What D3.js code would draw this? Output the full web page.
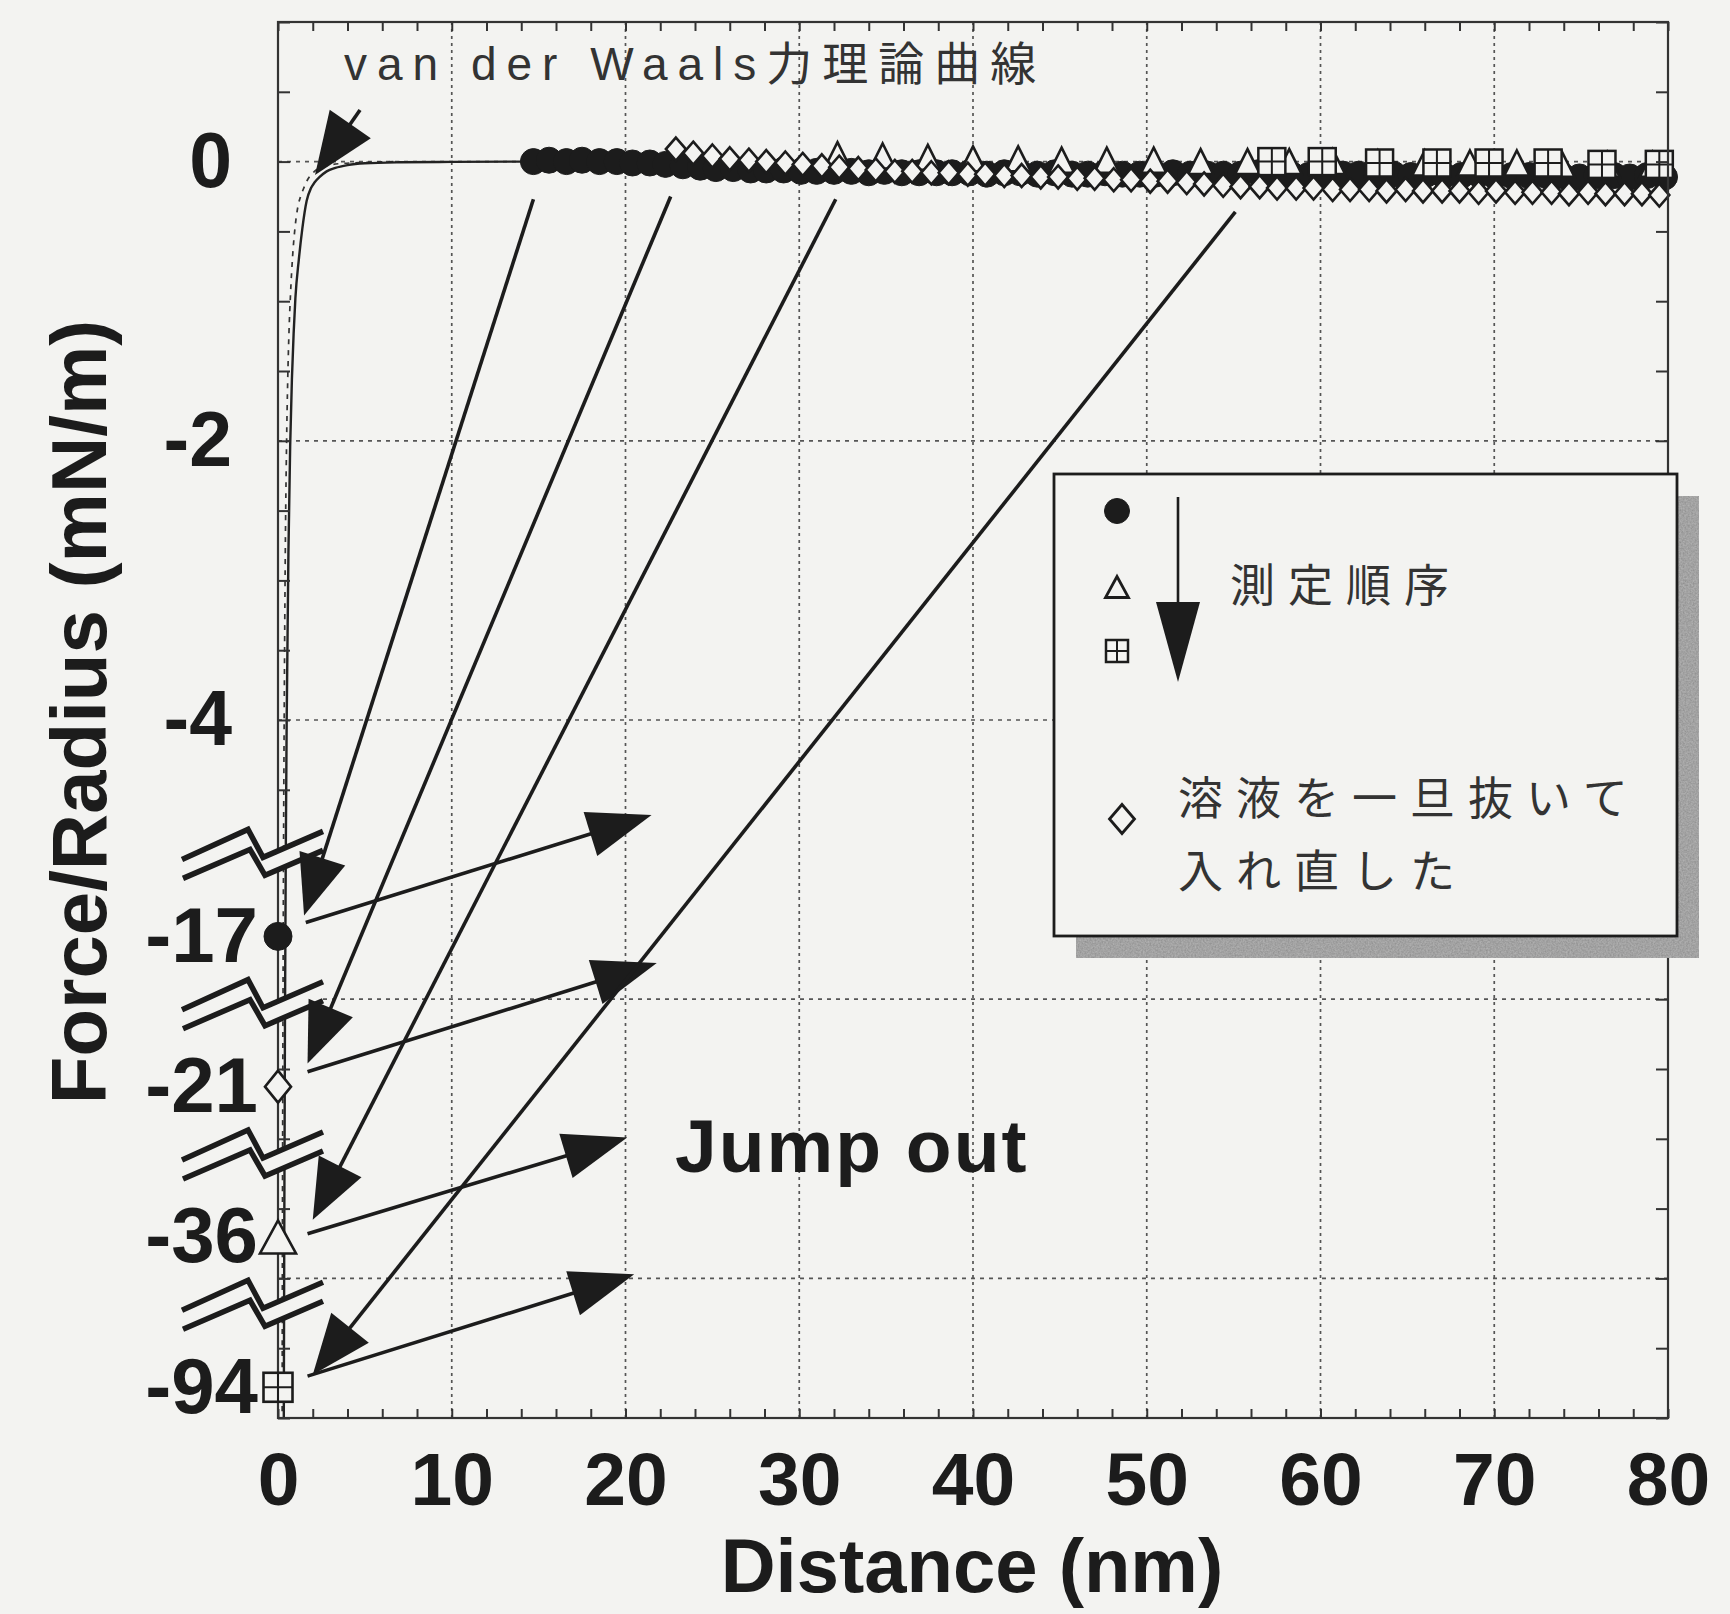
<!DOCTYPE html>
<html>
<head>
<meta charset="utf-8">
<script src="https://cdn.jsdelivr.net/npm/d3@7"></script>
<style>
  html, body { margin: 0; padding: 0; background: #f3f3f1; }
  svg { display: block; }
</style>
</head>
<body>
<svg id="chart" width="1730" height="1614"></svg>
<script>
// ---------- axis ticks ----------
const xTickValues = [0, 10, 20, 30, 40, 50, 60, 70, 80];
const xTickLabels = ["0", "10", "20", "30", "40", "50", "60", "70", "80"];
const yTickValues = [0, -2, -4];
const yTickLabels = ["0", "-2", "-4"];
const xGridValues = [10, 20, 30, 40, 50, 60, 70];
const yGridValues = [0, -2, -4, -6, -8];

// ---------- van der Waals theoretical curves (Distance nm, Force/Radius mN/m) ----------
const vdwSolidD = [0.30, 0.33, 0.36, 0.40, 0.45, 0.50, 0.60, 0.70, 0.80, 0.90, 1.00, 1.20, 1.40, 1.65, 1.90, 2.10, 2.40, 2.80, 3.30, 4.00, 5.00, 7.00, 10.0, 14.7];
const vdwSolidF = [-11.0, -9.2, -7.7, -6.2, -4.9, -4.0, -2.8, -2.04, -1.56, -1.23, -0.98, -0.70, -0.48, -0.28, -0.19, -0.15, -0.11, -0.07, -0.045, -0.025, -0.012, -0.005, -0.002, 0];
const vdwDashD = [0.22, 0.25, 0.28, 0.32, 0.36, 0.42, 0.49, 0.56, 0.63, 0.72, 0.84, 1.00, 1.15, 1.30, 1.45, 1.70, 2.10, 2.80, 3.50, 5.00, 7.00];
const vdwDashF = [-11.0, -8.0, -6.4, -4.9, -3.9, -2.8, -2.04, -1.56, -1.23, -0.95, -0.68, -0.45, -0.32, -0.25, -0.20, -0.13, -0.07, -0.03, -0.015, -0.006, 0];

// ---------- measured force curves ----------
// 1st run (filled circles)
const circleD = [14.7, 15.6, 16.6, 17.5, 18.5, 19.5, 20.4, 21.4, 22.3, 23.3, 24.3, 25.2, 26.2, 27.2, 28.1, 29.1, 30.1, 31.0, 32.0, 33.0, 34.0, 34.9, 35.9, 36.9, 37.9, 38.8, 39.8, 40.8, 41.8, 42.7, 43.7, 44.7, 45.7, 46.6, 47.6, 48.6, 49.6, 50.5, 51.5, 52.5, 53.5, 54.4, 55.4, 56.4, 57.4, 58.3, 59.3, 60.3, 61.3, 62.2, 63.2, 64.2, 65.2, 66.1, 67.1, 68.1, 69.1, 70.0, 71.0, 72.0, 73.0, 73.9, 74.9, 75.9, 76.9, 77.8, 78.8, 79.8];
const circleF = [0.00, 0.01, 0.00, 0.01, 0.00, 0.00, -0.01, -0.01, -0.02, -0.03, -0.04, -0.05, -0.05, -0.06, -0.06, -0.06, -0.07, -0.07, -0.07, -0.07, -0.08, -0.07, -0.08, -0.08, -0.08, -0.08, -0.08, -0.09, -0.08, -0.08, -0.09, -0.08, -0.09, -0.09, -0.08, -0.09, -0.09, -0.09, -0.08, -0.09, -0.09, -0.09, -0.09, -0.08, -0.09, -0.09, -0.10, -0.09, -0.09, -0.09, -0.10, -0.09, -0.10, -0.09, -0.10, -0.10, -0.09, -0.10, -0.10, -0.10, -0.10, -0.10, -0.11, -0.10, -0.10, -0.11, -0.10, -0.11];
// 2nd run (open triangles)
const triangleD = [32.2, 34.8, 37.4, 40.0, 42.6, 45.1, 47.7, 50.4, 53.1, 55.8, 58.2, 60.7, 63.3, 66.0, 68.6, 71.3, 73.9, 76.5, 79.1];
const triangleF = [0.05, 0.04, 0.03, 0.02, 0.02, 0.01, 0.01, 0.01, 0.00, 0.00, 0.00, 0.00, -0.01, -0.01, -0.01, -0.01, -0.02, -0.02, -0.02];
// 3rd run (crossed squares)
const squareD = [57.2, 60.1, 63.4, 66.7, 69.7, 73.1, 76.2, 79.5];
const squareF = [0.00, 0.00, -0.01, -0.01, -0.01, -0.01, -0.02, -0.02];
// after draining and refilling the solution (open diamonds)
const diamondD = [22.9, 23.9, 25.0, 26.0, 27.1, 28.1, 29.2, 30.2, 31.3, 32.3, 33.4, 34.4, 35.5, 36.5, 37.6, 38.6, 39.7, 40.7, 41.8, 42.8, 43.9, 44.9, 46.0, 47.0, 48.1, 49.1, 50.2, 51.2, 52.3, 53.3, 54.4, 55.4, 56.5, 57.5, 58.6, 59.6, 60.7, 61.7, 62.8, 63.8, 64.9, 65.9, 67.0, 68.0, 69.1, 70.1, 71.2, 72.2, 73.3, 74.3, 75.4, 76.4, 77.5, 78.5, 79.5];
const diamondF = [0.09, 0.06, 0.04, 0.02, 0.01, 0.00, -0.01, -0.02, -0.03, -0.04, -0.05, -0.06, -0.07, -0.07, -0.08, -0.08, -0.09, -0.09, -0.10, -0.10, -0.11, -0.11, -0.12, -0.12, -0.13, -0.13, -0.14, -0.14, -0.15, -0.16, -0.17, -0.18, -0.18, -0.19, -0.19, -0.19, -0.20, -0.20, -0.20, -0.21, -0.20, -0.21, -0.21, -0.21, -0.22, -0.21, -0.22, -0.22, -0.22, -0.23, -0.22, -0.23, -0.23, -0.23, -0.24];

// ---------- adhesion (pull-off) values on the broken axis ----------
const adhesionLabels = ["-17", "-21", "-36", "-94"];
const adhesionSymbols = ["circle", "diamond", "triangle", "square"];
// jump-in arrows: start just below the curve at the jump distance, end beside the adhesion point
const jumpInStartD = [14.7, 22.6, 32.1, 55.1];
const jumpInStartF = [-0.27, -0.25, -0.27, -0.36];
const jumpInEndD = [1.5, 1.7, 2.0, 2.0];
const jumpInEndF = [-5.40, -6.46, -7.58, -8.69];
// jump-out arrows
const jumpOutStartD = [1.6, 1.7, 1.7, 1.7];
const jumpOutStartF = [-5.45, -6.52, -7.68, -8.70];
const jumpOutEndD = [21.5, 21.8, 20.1, 20.5];
const jumpOutEndF = [-4.68, -5.74, -6.99, -7.97];
// pointer to the theoretical curve
const vdwPointerD = [4.72, 2.13];
const vdwPointerF = [0.37, -0.096];

// ---------- layout ----------
const W = 1730, H = 1614;
const M = { left: 278, right: 1668, top: 22, bottom: 1418 };
const paper = "#f3f3f1";
const ink = "#1c1c1c";
const boldFont = "'Liberation Sans', Arial, Helvetica, sans-serif";
const jpFont = "'Liberation Sans', 'Noto Sans CJK JP', sans-serif";

const svg = d3.select("#chart");
svg.append("rect").attr("width", W).attr("height", H).attr("fill", paper);

// grainy fill for the legend shadow
const defs = svg.append("defs");
const grain = defs.append("filter").attr("id", "grain").attr("x", 0).attr("y", 0).attr("width", 1).attr("height", 1);
grain.append("feTurbulence").attr("type", "fractalNoise").attr("baseFrequency", 0.6).attr("numOctaves", 2).attr("seed", 3).attr("result", "noise");
grain.append("feColorMatrix").attr("in", "noise").attr("type", "matrix")
  .attr("values", "0 0 0 0 0.5  0 0 0 0 0.5  0 0 0 0 0.5  0 0 0 0.9 0").attr("result", "tone");
grain.append("feComposite").attr("in", "tone").attr("in2", "SourceGraphic").attr("operator", "in").attr("result", "tex");
grain.append("feMerge").selectAll("feMergeNode").data(["SourceGraphic", "tex"]).join("feMergeNode").attr("in", d => d);

const x = d3.scaleLinear().domain([0, 80]).range([M.left, M.right]);
const y = d3.scaleLinear().domain([1, -9]).range([M.top, M.bottom]);
const yBreak = d3.scalePoint().domain(adhesionLabels).range([y(-5.55), y(-8.78)]);

// ---------- grid ----------
const grid = svg.append("g");
grid.selectAll("line.hg").data(yGridValues).join("line")
  .attr("x1", M.left).attr("x2", M.right)
  .attr("y1", d => y(d)).attr("y2", d => y(d))
  .attr("stroke", "#555").attr("stroke-width", 1.7).attr("stroke-dasharray", "4 5");
grid.selectAll("line.vg").data(xGridValues).join("line")
  .attr("y1", M.top).attr("y2", M.bottom)
  .attr("x1", d => x(d)).attr("x2", d => x(d))
  .attr("stroke", "#555").attr("stroke-width", 1.7).attr("stroke-dasharray", "3 4");

// ---------- theoretical curves ----------
svg.append("clipPath").attr("id", "plotclip").append("rect")
  .attr("x", M.left).attr("y", M.top).attr("width", M.right - M.left).attr("height", M.bottom - M.top);
const curveG = svg.append("g").attr("clip-path", "url(#plotclip)");
const line = d3.line().x(d => x(d[0])).y(d => y(d[1])).curve(d3.curveMonotoneX);
curveG.append("path").datum(d3.zip(vdwDashD, vdwDashF)).attr("d", line)
  .attr("fill", "none").attr("stroke", "#333").attr("stroke-width", 1.7).attr("stroke-dasharray", "5 6");
curveG.append("path").datum(d3.zip(vdwSolidD, vdwSolidF)).attr("d", line)
  .attr("fill", "none").attr("stroke", "#222").attr("stroke-width", 2.4);

// ---------- marker shapes ----------
function drawMarker(g, type, cx, cy, s) {
  if (type === "circle") {
    g.append("circle").attr("cx", cx).attr("cy", cy).attr("r", s.r)
      .attr("fill", ink).attr("stroke", ink).attr("stroke-width", 1);
  } else if (type === "diamond") {
    g.append("path").attr("transform", `translate(${cx},${cy})`)
      .attr("d", `M0,${-s.h}L${s.w},0L0,${s.h}L${-s.w},0Z`)
      .attr("fill", paper).attr("stroke", ink).attr("stroke-width", s.sw);
  } else if (type === "triangle") {
    g.append("path").attr("transform", `translate(${cx},${cy})`)
      .attr("d", `M0,${-s.h / 2}L${s.w / 2},${s.h / 2}L${-s.w / 2},${s.h / 2}Z`)
      .attr("fill", paper).attr("stroke", ink).attr("stroke-width", s.sw).attr("stroke-linejoin", "miter");
  } else if (type === "square") {
    const a = s.a / 2;
    const q = g.append("g").attr("transform", `translate(${cx},${cy})`);
    q.append("rect").attr("x", -a).attr("y", -a).attr("width", 2 * a).attr("height", 2 * a)
      .attr("fill", paper).attr("stroke", ink).attr("stroke-width", s.sw);
    q.append("path").attr("d", `M${-a},0H${a}M0,${-a}V${a}`)
      .attr("stroke", ink).attr("stroke-width", s.sw * 0.8);
  }
}
const dataStyle = {
  circle: { r: 13 },
  triangle: { w: 25, h: 25, sw: 2.6 },
  square: { a: 27, sw: 2.5 },
  diamond: { w: 10, h: 11.5, sw: 2.6 }
};
const bigStyle = {
  circle: { r: 14 },
  diamond: { w: 13, h: 16, sw: 2.6 },
  triangle: { w: 36, h: 33, sw: 2.6 },
  square: { a: 29, sw: 2.6 }
};

// ---------- data markers ----------
const markG = svg.append("g");
d3.zip(circleD, circleF).forEach(([d, f]) => drawMarker(markG, "circle", x(d), y(f), dataStyle.circle));
d3.zip(triangleD, triangleF).forEach(([d, f]) => drawMarker(markG, "triangle", x(d), y(f), dataStyle.triangle));
d3.zip(squareD, squareF).forEach(([d, f]) => drawMarker(markG, "square", x(d), y(f), dataStyle.square));
d3.zip(diamondD, diamondF).forEach(([d, f]) => drawMarker(markG, "diamond", x(d), y(f), dataStyle.diamond));

// ---------- frame and ticks ----------
const xMinor = d3.range(0, 80.01, 2);
const yMinor = d3.range(1, -9.01, -0.5);
function styleTicks(g) {
  g.select(".domain").remove();
  g.selectAll(".tick line").attr("stroke", "#333").attr("stroke-width", 2);
  g.selectAll(".tick text").remove();
}
svg.append("g").attr("transform", `translate(0,${M.bottom})`)
  .call(d3.axisBottom(x).tickValues(xMinor).tickSize(-9)).call(styleTicks);
svg.append("g").attr("transform", `translate(0,${M.top})`)
  .call(d3.axisTop(x).tickValues(xMinor).tickSize(-9)).call(styleTicks);
svg.append("g").attr("transform", `translate(${M.left},0)`)
  .call(d3.axisLeft(y).tickValues(yMinor).tickSize(-12)).call(styleTicks);
svg.append("g").attr("transform", `translate(${M.right},0)`)
  .call(d3.axisRight(y).tickValues(yMinor).tickSize(-12)).call(styleTicks);
svg.append("rect").attr("x", M.left).attr("y", M.top)
  .attr("width", M.right - M.left).attr("height", M.bottom - M.top)
  .attr("fill", "none").attr("stroke", "#333").attr("stroke-width", 2.2);

// ---------- tick labels ----------
function styleLabels(size) {
  return g => {
    g.select(".domain").remove();
    g.selectAll(".tick line").remove();
    g.attr("font-size", size).attr("font-family", boldFont).attr("font-weight", "bold");
    g.selectAll(".tick text").attr("fill", ink);
  };
}
svg.append("g").attr("transform", `translate(0,${M.bottom})`)
  .call(d3.axisBottom(x).tickValues(xTickValues).tickFormat((d, i) => xTickLabels[i]).tickSize(0).tickPadding(34))
  .call(styleLabels(75));
svg.append("g").attr("transform", `translate(${M.left},0)`)
  .call(d3.axisLeft(y).tickValues(yTickValues).tickFormat((d, i) => yTickLabels[i]).tickSize(0).tickPadding(46))
  .call(styleLabels(77));
svg.append("g").attr("transform", `translate(${M.left},0)`)
  .call(d3.axisLeft(yBreak).tickSize(0).tickPadding(20))
  .call(styleLabels(78));

// ---------- broken-axis marks ----------
const breakG = svg.append("g");
adhesionLabels.forEach(lab => {
  const bx = x(0), by = yBreak(lab) - 77;
  const upper = [[-96, 0], [-30, -30], [-15, -2], [45, -28]];
  const lower = [[-95, 19], [-28, -10], [-13, 16], [45, -9]];
  const pts = a => a.map(p => [bx + p[0], by + p[1]]);
  const poly = pts(upper).concat(pts(lower).reverse());
  breakG.append("path").attr("d", "M" + poly.join("L") + "Z").attr("fill", paper);
  [upper, lower].forEach(a => {
    breakG.append("path").attr("d", "M" + pts(a).join("L"))
      .attr("fill", "none").attr("stroke", ink).attr("stroke-width", 5.5).attr("stroke-linejoin", "miter");
  });
});

// ---------- adhesion markers at contact ----------
adhesionLabels.forEach((lab, i) => {
  drawMarker(svg, adhesionSymbols[i], x(0), yBreak(lab), bigStyle[adhesionSymbols[i]]);
});

// ---------- arrows ----------
function arrow(g, x1, y1, x2, y2, len, half, lw) {
  const dx = x2 - x1, dy = y2 - y1, L = Math.hypot(dx, dy);
  const ux = dx / L, uy = dy / L, px = -uy, py = ux;
  const bx = x2 - ux * len, by = y2 - uy * len;
  g.append("line").attr("x1", x1).attr("y1", y1).attr("x2", bx + ux * 4).attr("y2", by + uy * 4)
    .attr("stroke", ink).attr("stroke-width", lw);
  g.append("path")
    .attr("d", `M${x2},${y2}L${bx + px * half},${by + py * half}L${bx - px * half},${by - py * half}Z`)
    .attr("fill", ink);
}
const arrowG = svg.append("g");
adhesionLabels.forEach((lab, i) => {
  arrow(arrowG, x(jumpInStartD[i]), y(jumpInStartF[i]), x(jumpInEndD[i]), y(jumpInEndF[i]), 60, 24, 3.6);
  arrow(arrowG, x(jumpOutStartD[i]), y(jumpOutStartF[i]), x(jumpOutEndD[i]), y(jumpOutEndF[i]), 64, 23, 3.6);
});
arrow(arrowG, x(vdwPointerD[0]), y(vdwPointerF[0]), x(vdwPointerD[1]), y(vdwPointerF[1]), 62, 25, 3.6);

// ---------- annotations ----------
svg.append("text").attr("x", 344).attr("y", 80)
  .attr("font-family", jpFont).attr("font-size", 46).attr("letter-spacing", 10)
  .attr("fill", "#333").text("van der Waals力理論曲線");
svg.append("text").attr("x", 675).attr("y", 1172)
  .attr("font-family", boldFont).attr("font-weight", "bold").attr("font-size", 75)
  .attr("letter-spacing", 2).attr("fill", ink).text("Jump out");

// ---------- axis titles ----------
svg.append("text").attr("x", 972).attr("y", 1592).attr("text-anchor", "middle")
  .attr("font-family", boldFont).attr("font-weight", "bold").attr("font-size", 76)
  .attr("fill", ink).text("Distance (nm)");
svg.append("text").attr("transform", "translate(106,712) rotate(-90)").attr("text-anchor", "middle")
  .attr("font-family", boldFont).attr("font-weight", "bold").attr("font-size", 78)
  .attr("fill", ink).text("Force/Radius (mN/m)");

// ---------- legend ----------
const lg = svg.append("g");
const box = { x0: 1054, y0: 474, x1: 1677, y1: 936, shadow: 22 };
lg.append("rect").attr("x", box.x0 + box.shadow).attr("y", box.y0 + box.shadow)
  .attr("width", box.x1 - box.x0).attr("height", box.y1 - box.y0).attr("fill", "#8a8a8a")
  .attr("filter", "url(#grain)");
lg.append("rect").attr("x", box.x0).attr("y", box.y0)
  .attr("width", box.x1 - box.x0).attr("height", box.y1 - box.y0)
  .attr("fill", paper).attr("stroke", ink).attr("stroke-width", 2.8);
drawMarker(lg, "circle", 1117, 511, { r: 12.5 });
drawMarker(lg, "triangle", 1117, 587, { w: 23, h: 21, sw: 2.8 });
drawMarker(lg, "square", 1117, 651, { a: 22, sw: 2.5 });
drawMarker(lg, "diamond", 1122, 819, { w: 12.5, h: 14.5, sw: 2.8 });
arrow(lg, 1178, 497, 1178, 682, 80, 22, 2.6);
const jpText = (tx, ty, s) => lg.append("text").attr("x", tx).attr("y", ty)
  .attr("font-family", jpFont).attr("font-size", 45).attr("letter-spacing", 13)
  .attr("dominant-baseline", "central").attr("fill", "#333").text(s);
jpText(1230, 586, "測定順序");
jpText(1178, 799, "溶液を一旦抜いて");
jpText(1178, 872, "入れ直した");
</script>
</body>
</html>
